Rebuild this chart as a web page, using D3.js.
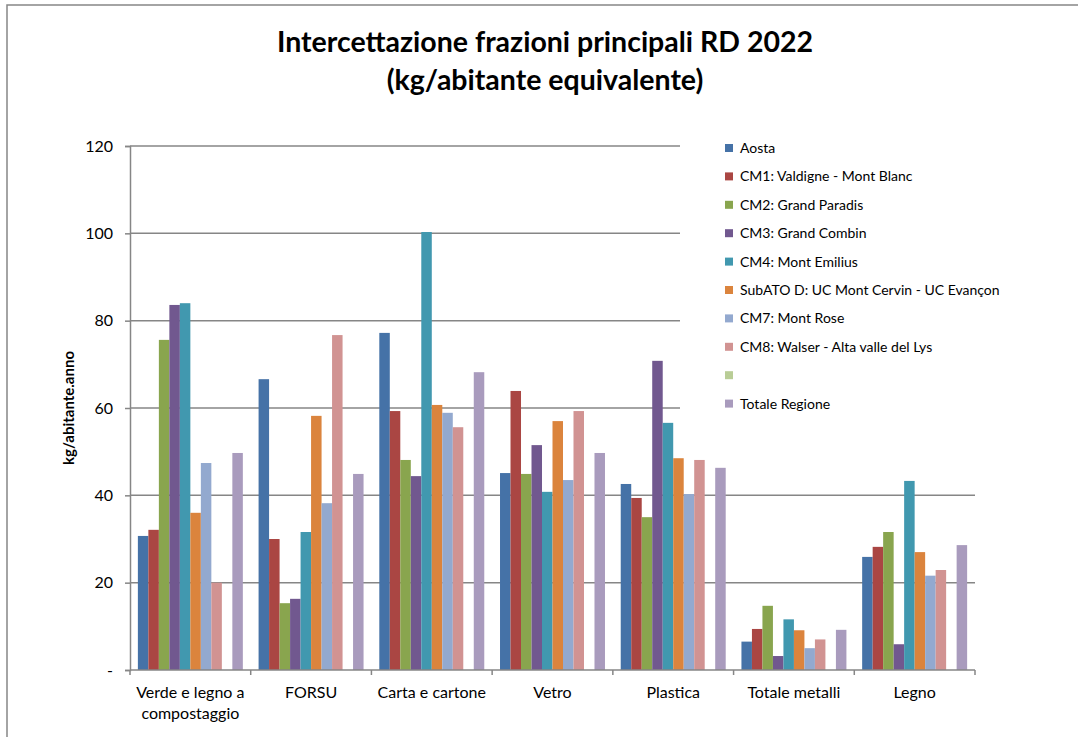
<!DOCTYPE html>
<html>
<head>
<meta charset="utf-8">
<script src="https://cdn.jsdelivr.net/npm/d3@7"></script>
<style>
  body { margin: 0; background: #fff; }
  text { font-family: Lato, "Open Sans", sans-serif; fill: #000; }
</style>
</head>
<body>
<svg id="chart"></svg>
<script>
var categories = ['Verde e legno a compostaggio', 'FORSU', 'Carta e cartone', 'Vetro', 'Plastica', 'Totale metalli', 'Legno'];
var seriesNames = ['Aosta', 'CM1: Valdigne - Mont Blanc', 'CM2: Grand Paradis', 'CM3: Grand Combin', 'CM4: Mont Emilius',
    'SubATO D: UC Mont Cervin - UC Evançon', 'CM7: Mont Rose', 'CM8: Walser - Alta valle del Lys', '', 'Totale Regione'];
var colors = ['#4572A7', '#AA4643', '#89A54E', '#71588F', '#4198AF', '#DB843D', '#93A9CF', '#D19392', '#B9CD96', '#A99BBD'];

var aosta   = [30.7, 66.6, 77.2, 45.1, 42.6, 6.5, 25.9];
var cm1     = [32.1, 30.0, 59.3, 63.9, 39.4, 9.4, 28.2];
var cm2     = [75.6, 15.3, 48.1, 44.9, 35.0, 14.7, 31.6];
var cm3     = [83.6, 16.3, 44.4, 51.5, 70.8, 3.2, 5.9];
var cm4     = [84.0, 31.6, 100.3, 40.8, 56.6, 11.6, 43.3];
var subatoD = [36.0, 58.2, 60.7, 57.0, 48.5, 9.1, 27.0];
var cm7     = [47.4, 38.2, 58.9, 43.5, 40.3, 5.0, 21.6];
var cm8     = [20.0, 76.7, 55.6, 59.3, 48.1, 7.0, 22.9];
var blank   = [null, null, null, null, null, null, null];
var totale  = [49.7, 44.9, 68.2, 49.7, 46.3, 9.2, 28.6];
var series = [aosta, cm1, cm2, cm3, cm4, subatoD, cm7, cm8, blank, totale];

var yTicks = [0, 20, 40, 60, 80, 100, 120];

function start() {
    var W = 1078, H = 737;
    var svg = d3.select('#chart').attr('width', W).attr('height', H);

    var mLeft = 130, mRight = 975, mTop = 146, mBottom = 670;

    // chart border
    svg.append('rect')
        .attr('x', 7).attr('y', 5)
        .attr('width', W + 10).attr('height', H + 10)
        .attr('fill', '#fff').attr('stroke', '#868686').attr('stroke-width', 1.5);

    var x0 = d3.scaleBand().domain(d3.range(categories.length)).range([mLeft, mRight]);
    // 10 bars + gap of 150% of a bar
    var barW = x0.bandwidth() / 11.5;
    var y = d3.scaleLinear().domain([0, 120]).range([mBottom, mTop]);

    // grid
    svg.append('g').selectAll('line')
        .data(yTicks.filter(function (d) { return d > 0; }))
        .enter().append('line')
        .attr('x1', mLeft).attr('x2', mRight)
        .attr('y1', function (d) { return y(d); }).attr('y2', function (d) { return y(d); })
        .attr('stroke', '#868686').attr('stroke-width', 1.5);

    // bars
    svg.append('g').selectAll('g')
        .data(series)
        .enter().append('g')
        .attr('fill', function (d, i) { return colors[i]; })
        .each(function (vals, si) {
            d3.select(this).selectAll('rect')
                .data(vals.map(function (v, ci) { return { v: v, c: ci }; }).filter(function (d) { return d.v != null; }))
                .enter().append('rect')
                .attr('x', function (d) { return x0(d.c) + barW * 0.75 + si * barW; })
                .attr('width', barW)
                .attr('y', function (d) { return y(d.v); })
                .attr('height', function (d) { return mBottom - y(d.v); });
        });

    // y axis
    var yAxis = d3.axisLeft(y).tickValues(yTicks).tickSize(5).tickPadding(12)
        .tickFormat(function (d) { return d === 0 ? '-' : d; });
    var gy = svg.append('g').attr('transform', 'translate(' + mLeft + ',0)').call(yAxis);
    gy.selectAll('line, path').attr('stroke', '#868686').attr('stroke-width', 1.5);
    gy.selectAll('text').style('font-size', '16px').style('font-family', 'Lato, sans-serif').attr('fill', '#000');

    // x axis
    svg.append('line')
        .attr('x1', mLeft).attr('x2', mRight).attr('y1', mBottom).attr('y2', mBottom)
        .attr('stroke', '#868686').attr('stroke-width', 1.5);
    svg.append('g').selectAll('line')
        .data(d3.range(categories.length + 1))
        .enter().append('line')
        .attr('x1', function (d) { return mLeft + d * x0.bandwidth(); })
        .attr('x2', function (d) { return mLeft + d * x0.bandwidth(); })
        .attr('y1', mBottom).attr('y2', mBottom + 5)
        .attr('stroke', '#868686').attr('stroke-width', 1.5);

    var labels = svg.append('g').selectAll('text')
        .data(categories)
        .enter().append('text')
        .attr('text-anchor', 'middle')
        .attr('x', function (d, i) { return x0(i) + x0.bandwidth() / 2; })
        .attr('y', 698)
        .style('font-size', '16px');
    labels.each(function (d) {
        var t = d3.select(this);
        if (d === 'Verde e legno a compostaggio') {
            t.append('tspan').attr('x', t.attr('x')).attr('dy', 0).text('Verde e legno a');
            t.append('tspan').attr('x', t.attr('x')).attr('dy', 21).text('compostaggio');
        } else {
            t.text(d);
        }
    });

    // y title
    svg.append('text')
        .attr('transform', 'translate(74,' + ((mTop + mBottom) / 2) + ') rotate(-90)')
        .attr('text-anchor', 'middle')
        .style('font-size', '15px').style('font-weight', 'bold')
        .text('kg/abitante.anno');

    // title
    svg.append('text').attr('x', 545).attr('y', 52).attr('text-anchor', 'middle')
        .style('font-size', '28.5px').style('font-weight', 'bold')
        .text('Intercettazione frazioni principali RD 2022');
    svg.append('text').attr('x', 545).attr('y', 90).attr('text-anchor', 'middle')
        .style('font-size', '28.5px').style('font-weight', 'bold')
        .text('(kg/abitante equivalente)');

    // legend
    var leg = svg.append('g');
    leg.append('rect').attr('x', 680).attr('y', 132).attr('width', 330).attr('height', 292).attr('fill', '#fff');
    var items = leg.selectAll('g.item')
        .data(seriesNames)
        .enter().append('g')
        .attr('transform', function (d, i) { return 'translate(725,' + (148 + i * 28.4) + ')'; });
    items.append('rect').attr('x', 0).attr('y', -4).attr('width', 8).attr('height', 8)
        .attr('fill', function (d, i) { return colors[i]; });
    items.append('text').attr('x', 15).attr('y', 5).style('font-size', '14px').text(function (d) { return d; });
}

start();
</script>
</body>
</html>
